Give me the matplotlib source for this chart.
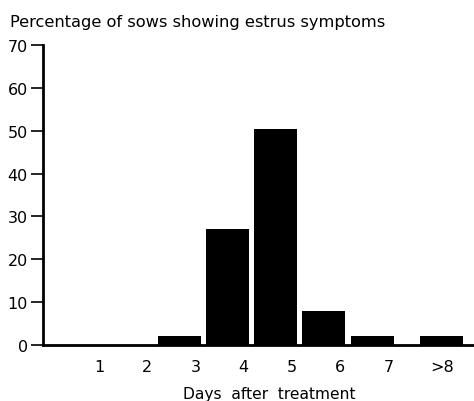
import matplotlib
matplotlib.use("Agg")
import matplotlib.pyplot as plt

# data
days = ['1', '2', '3', '4', '5', '6', '7', '>8']
percent = [0, 0, 2.1, 27, 50.5, 7.9, 2, 2]
bar_pos = [0, 1, 2, 3, 4, 5, 6, 7.44]
tick_pos = [0.34, 1.34, 2.34, 3.34, 4.34, 5.34, 6.34, 7.44]

plt.rcParams['font.family'] = ['DejaVu Sans']

fig = plt.figure(figsize=(4.74, 4.02), dpi=100)
ax = fig.add_axes([43 / 474, 56 / 402, 431 / 474, 300 / 402])

ax.bar(bar_pos, percent, width=0.89, color='black')

ax.set_xlim(-0.82, 8.11)
ax.set_ylim(0, 70)
ax.set_yticks(range(0, 71, 10))
ax.set_xticks(tick_pos)
ax.set_xticklabels(days)

ax.spines['top'].set_visible(False)
ax.spines['right'].set_visible(False)
ax.spines['left'].set_linewidth(2)
ax.spines['bottom'].set_linewidth(2)
ax.tick_params(axis='y', length=9, width=1.2, labelsize=11.5, pad=2)
ax.tick_params(axis='x', length=0, labelsize=11.5, pad=10)

ax.set_xlabel('Days  after  treatment', fontsize=11.2, labelpad=9)
ax.xaxis.label.set_x((269 - 43) / 431)
fig.text(10 / 474, 1 - 22 / 402, 'Percentage of sows showing estrus symptoms',
         fontsize=11.7, va='center', ha='left')

fig.savefig('out.png', dpi=100)
